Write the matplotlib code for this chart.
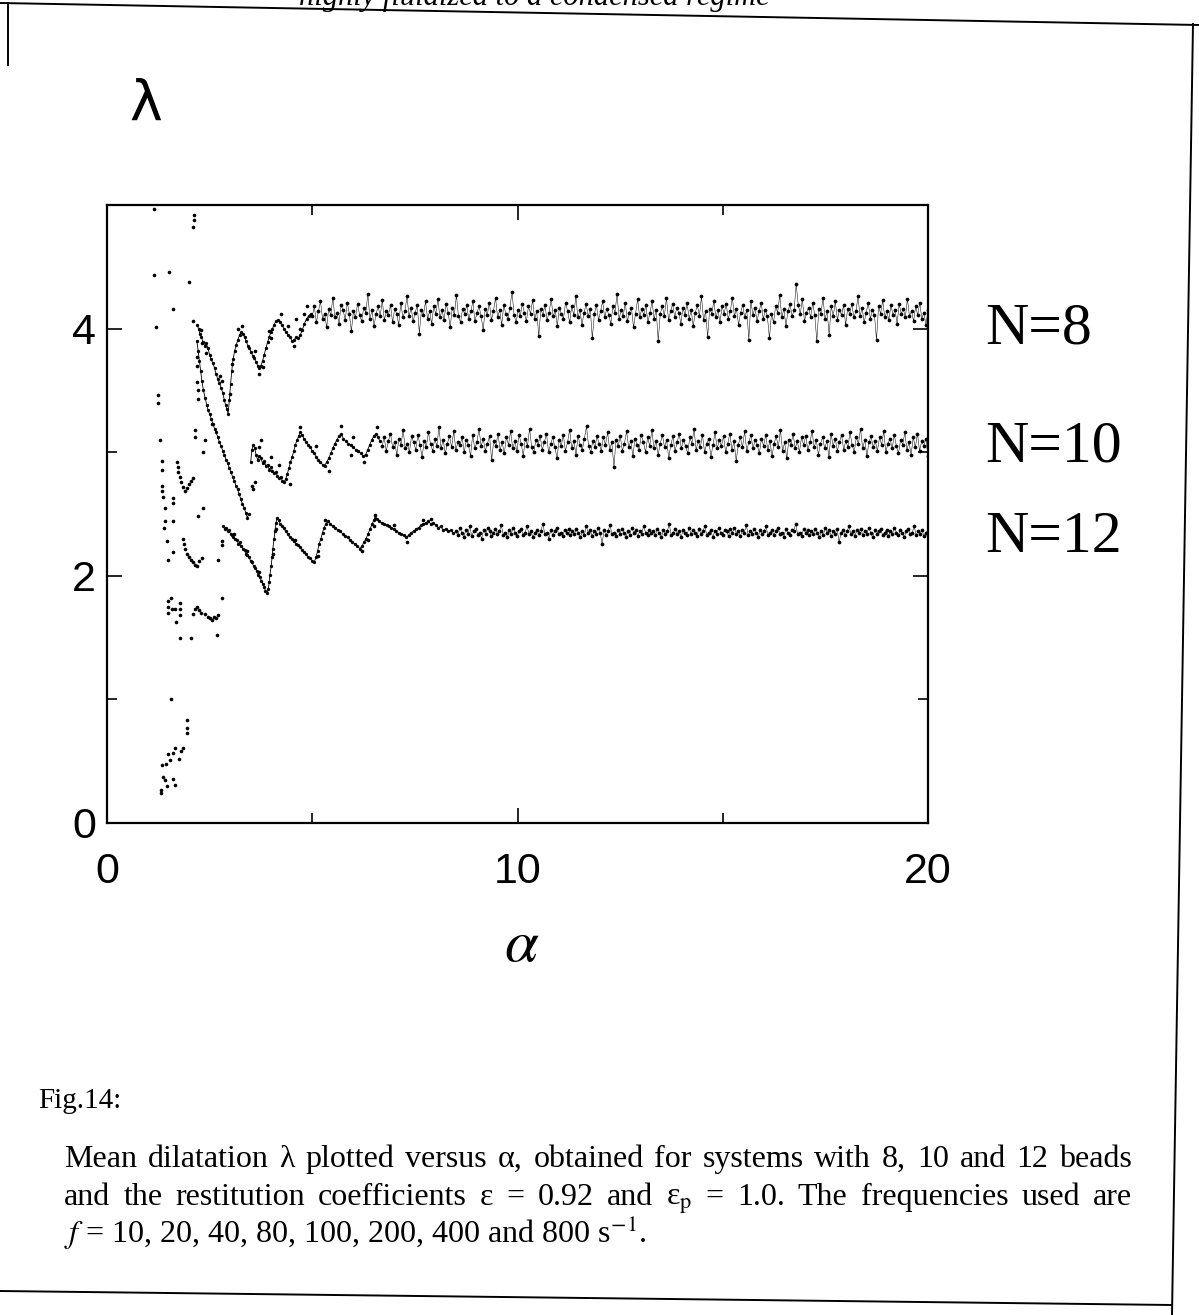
import numpy as np
import matplotlib
matplotlib.use("Agg")
import matplotlib.pyplot as plt
from matplotlib import font_manager
from matplotlib.lines import Line2D

# ---------------- data ----------------
series_labels = ["N=8", "N=10", "N=12"]
x_ticks = [0, 10, 20]
y_ticks = [0, 2, 4]

# early scattered points (unstable regime, alpha < ~2.8)
early_scatter = [
    (1.14, 4.97), (2.12, 4.92), (2.12, 4.88), (2.10, 4.82), (1.15, 4.43), (1.51, 4.46),
    (2.00, 4.38), (1.61, 4.16), (1.20, 4.01), (1.25, 3.46), (1.25, 3.40), (2.10, 4.06),
    (2.19, 3.77), (2.20, 3.70), (2.22, 3.50), (2.22, 3.43), (2.19, 3.57), (2.31, 3.88),
    (1.29, 3.10), (1.34, 2.93), (1.34, 2.86), (1.34, 2.73), (1.34, 2.69), (1.36, 2.64),
    (1.41, 2.55), (1.41, 2.44), (1.38, 2.39), (1.46, 2.28), (1.49, 2.13), (1.61, 2.19),
    (1.61, 2.63), (1.61, 2.59), (1.61, 2.44), (2.14, 3.18), (2.14, 3.12), (2.39, 3.10),
    (2.34, 3.00), (2.22, 2.48), (2.34, 2.55), (2.56, 3.23),
    (1.70, 2.92), (1.72, 2.88), (1.74, 2.84), (1.77, 2.80), (1.80, 2.76), (1.85, 2.72),
    (1.90, 2.69), (1.95, 2.71), (2.00, 2.74), (2.05, 2.77), (2.10, 2.79),
    (1.85, 2.30), (1.87, 2.26), (1.90, 2.22), (1.95, 2.18), (2.00, 2.15), (2.05, 2.13),
    (2.10, 2.11), (2.15, 2.09), (2.20, 2.08), (2.25, 2.12), (2.31, 2.14), (2.70, 2.13),
    (2.80, 2.25), (2.80, 2.28),
    (1.49, 1.80), (1.49, 1.75), (1.49, 1.70), (1.56, 1.82), (1.58, 1.73), (1.66, 1.73),
    (1.68, 1.63), (1.78, 1.78), (1.78, 1.73), (1.78, 1.68), (1.78, 1.50), (2.05, 1.50),
    (2.10, 1.69), (2.15, 1.73), (2.20, 1.75), (2.25, 1.72), (2.30, 1.70), (2.39, 1.69),
    (2.45, 1.67), (2.50, 1.66), (2.56, 1.64), (2.60, 1.67), (2.65, 1.66), (2.70, 1.68),
    (2.68, 1.52), (2.80, 1.82),
    (1.56, 1.00), (1.95, 0.83), (1.95, 0.77), (1.95, 0.73), (1.85, 0.61), (1.66, 0.61),
    (1.61, 0.57), (1.49, 0.56), (1.44, 0.48), (1.34, 0.47), (1.53, 0.51), (1.75, 0.52),
    (1.80, 0.58), (1.36, 0.37), (1.41, 0.35), (1.61, 0.36), (1.66, 0.31), (1.46, 0.30),
    (1.32, 0.27), (1.32, 0.24),
]

n8_early = [
    (2.20, 4.03), (2.23, 4.00), (2.26, 3.96), (2.30, 3.93), (2.34, 3.89), (2.38, 3.86),
    (2.42, 3.88), (2.46, 3.84), (2.50, 3.79), (2.54, 3.75), (2.58, 3.72), (2.62, 3.68),
    (2.66, 3.63), (2.70, 3.59), (2.74, 3.56), (2.78, 3.52), (2.82, 3.48), (2.86, 3.42),
    (2.89, 3.38), (2.92, 3.35), (2.95, 3.31), (2.98, 3.42), (3.01, 3.55), (3.04, 3.66),
    (3.07, 3.75), (3.11, 3.82), (3.15, 3.87), (3.19, 3.91), (3.23, 3.95), (3.27, 3.97),
    (3.31, 3.96), (3.35, 3.93), (3.39, 3.90), (3.43, 3.86), (3.47, 3.84), (3.51, 3.81),
    (3.55, 3.78), (3.59, 3.76), (3.63, 3.73), (3.67, 3.70), (3.71, 3.68), (3.75, 3.70),
    (3.79, 3.74), (3.83, 3.79), (3.87, 3.84), (3.91, 3.89), (3.95, 3.93), (3.99, 3.97),
    (4.03, 4.00), (4.07, 4.03), (4.11, 4.06), (4.16, 4.07), (4.21, 4.05), (4.26, 4.03),
    (4.31, 4.00), (4.36, 3.97), (4.41, 3.95), (4.46, 3.93), (4.51, 3.90), (4.56, 3.91),
    (4.61, 3.93), (4.66, 3.92), (4.71, 3.95), (4.76, 3.99), (4.81, 4.04), (4.86, 4.08),
    (4.91, 4.10), (4.96, 4.12),
]
n8_extra = [
    (2.28, 3.99), (2.40, 3.80), (2.75, 3.62), (2.80, 3.58), (3.00, 3.47), (3.20, 4.00),
    (3.30, 4.02), (3.60, 3.82), (3.70, 3.63), (3.95, 3.98), (4.00, 3.92), (4.25, 4.12),
    (4.40, 4.02), (4.55, 3.86), (4.70, 4.00), (4.80, 4.12), (3.05, 3.71), (3.80, 3.69),
    (4.88, 4.18), (4.60, 4.08),
]

n10_early = [
    (2.19, 3.90), (2.22, 3.82), (2.25, 3.74), (2.28, 3.66), (2.31, 3.58), (2.35, 3.50),
    (2.39, 3.44), (2.43, 3.38), (2.46, 3.34), (2.50, 3.31), (2.54, 3.27), (2.58, 3.23),
    (2.62, 3.19), (2.66, 3.16), (2.70, 3.12), (2.74, 3.08), (2.78, 3.05), (2.82, 3.01),
    (2.86, 2.98), (2.90, 2.94), (2.94, 2.91), (2.98, 2.87), (3.02, 2.84), (3.06, 2.80),
    (3.10, 2.77), (3.14, 2.73), (3.18, 2.70), (3.22, 2.66), (3.26, 2.62), (3.30, 2.58),
    (3.34, 2.55), (3.38, 2.51), (3.42, 2.47), (3.45, 2.50),
    (3.50, 2.92), (3.53, 3.02), (3.56, 3.06), (3.60, 3.03), (3.63, 2.98), (3.67, 2.94),
    (3.71, 2.97), (3.75, 2.95), (3.79, 2.91), (3.83, 2.93), (3.87, 2.89), (3.91, 2.90),
    (3.95, 2.86), (3.99, 2.88), (4.03, 2.85), (4.07, 2.83), (4.11, 2.84), (4.15, 2.81),
    (4.19, 2.79), (4.23, 2.80), (4.27, 2.77), (4.31, 2.76), (4.35, 2.78), (4.39, 2.82),
    (4.43, 2.87), (4.47, 2.92), (4.51, 2.96), (4.55, 3.01), (4.59, 3.06), (4.63, 3.10),
    (4.67, 3.13), (4.71, 3.16), (4.75, 3.14), (4.80, 3.11), (4.85, 3.08), (4.90, 3.06),
    (4.95, 3.04), (5.00, 3.01), (5.05, 2.99), (5.10, 2.96), (5.15, 2.94), (5.20, 2.92),
    (5.25, 2.90), (5.30, 2.89), (5.35, 2.92), (5.40, 2.95), (5.45, 2.99), (5.50, 3.03),
    (5.55, 3.07), (5.60, 3.10), (5.65, 3.13), (5.70, 3.15), (5.76, 3.11), (5.82, 3.09),
    (5.88, 3.07), (5.94, 3.06), (6.00, 3.04), (6.06, 3.02), (6.12, 3.01), (6.18, 2.99),
    (6.24, 2.97), (6.30, 2.98), (6.35, 3.02), (6.40, 3.06), (6.45, 3.10), (6.50, 3.13),
    (6.55, 3.15), (6.60, 3.12), (6.65, 3.09),
]
n10_extra = [
    (3.53, 2.73), (3.56, 2.70), (3.60, 2.76), (4.00, 2.96), (4.20, 2.90), (4.70, 3.20),
    (5.10, 3.05), (5.40, 2.85), (5.70, 3.21), (6.00, 3.12), (6.25, 2.92), (5.95, 2.98),
    (4.45, 2.74), (3.70, 3.04), (6.58, 3.20), (3.75, 3.10),
]

n12_early = [
    (2.83, 2.40), (2.87, 2.38), (2.90, 2.39), (2.94, 2.36), (2.97, 2.37), (3.01, 2.34),
    (3.05, 2.33), (3.08, 2.31), (3.12, 2.30), (3.16, 2.29), (3.20, 2.26), (3.23, 2.27),
    (3.27, 2.24), (3.31, 2.22), (3.35, 2.21), (3.38, 2.18), (3.42, 2.17), (3.46, 2.15),
    (3.50, 2.12), (3.53, 2.11), (3.57, 2.08), (3.61, 2.06), (3.65, 2.04), (3.68, 2.01),
    (3.72, 1.99), (3.76, 1.96), (3.80, 1.93), (3.83, 1.91), (3.86, 1.88), (3.90, 1.86),
    (3.93, 1.89), (3.95, 1.95), (3.97, 2.01), (4.00, 2.08), (4.02, 2.15), (4.04, 2.22),
    (4.07, 2.30), (4.09, 2.36), (4.12, 2.43), (4.14, 2.47), (4.18, 2.45), (4.22, 2.42),
    (4.26, 2.40), (4.30, 2.39), (4.35, 2.36), (4.40, 2.34), (4.45, 2.31), (4.50, 2.30),
    (4.55, 2.28), (4.60, 2.26), (4.65, 2.25), (4.70, 2.23), (4.75, 2.21), (4.80, 2.19),
    (4.85, 2.18), (4.90, 2.15), (4.95, 2.14), (5.00, 2.12), (5.05, 2.11), (5.09, 2.15),
    (5.13, 2.20), (5.17, 2.26), (5.21, 2.30), (5.25, 2.35), (5.29, 2.39), (5.33, 2.42),
    (5.38, 2.44), (5.44, 2.42), (5.50, 2.40), (5.56, 2.39), (5.62, 2.37), (5.68, 2.36),
    (5.74, 2.34), (5.80, 2.32), (5.86, 2.31), (5.92, 2.29), (5.98, 2.27), (6.04, 2.26),
    (6.10, 2.24), (6.16, 2.22), (6.21, 2.24), (6.26, 2.27), (6.31, 2.30), (6.36, 2.34),
    (6.41, 2.38), (6.46, 2.42), (6.50, 2.45), (6.54, 2.47), (6.58, 2.46), (6.63, 2.44),
    (6.69, 2.43), (6.75, 2.42), (6.81, 2.41), (6.87, 2.40), (6.93, 2.39), (6.99, 2.38),
    (7.05, 2.36), (7.11, 2.35), (7.17, 2.34), (7.23, 2.33), (7.29, 2.31), (7.35, 2.33),
    (7.41, 2.35), (7.47, 2.36), (7.53, 2.38), (7.59, 2.39), (7.65, 2.41), (7.71, 2.42),
    (7.77, 2.43), (7.83, 2.44), (7.89, 2.42), (7.95, 2.43), (8.01, 2.41), (8.07, 2.39),
    (8.13, 2.40), (8.19, 2.37), (8.25, 2.38), (8.31, 2.36), (8.37, 2.37), (8.43, 2.35),
]
n12_extra = [
    (3.10, 2.34), (3.40, 2.20), (3.70, 2.03), (4.05, 2.18), (4.12, 2.38), (4.58, 2.29),
    (5.15, 2.16), (5.30, 2.45), (6.20, 2.20), (6.50, 2.40), (6.52, 2.49), (7.31, 2.27),
    (7.70, 2.45), (7.00, 2.41), (7.90, 2.46), (6.35, 2.29),
]

# plateau ranges (alpha start, alpha end) and values
n8_range = (5.0, 20.0)
n8_plateau = [
    4.10, 4.18, 4.05, 4.14, 4.22, 4.08, 4.12, 4.01, 4.16, 4.11, 4.25, 4.09, 4.13, 4.04, 4.19, 4.15, 4.07, 4.21, 4.12, 3.98,
    4.14, 4.09, 4.20, 4.11, 4.06, 4.17, 4.13, 4.28, 4.08, 4.15, 4.02, 4.12, 4.18, 4.10, 4.23, 4.07, 4.14, 4.11, 4.19, 4.05,
    4.16, 4.12, 4.03, 4.21, 4.09, 4.14, 4.26, 4.10, 4.17, 4.06, 4.13, 4.19, 3.96, 4.15, 4.11, 4.22, 4.08, 4.14, 4.04, 4.18,
    4.12, 4.24, 4.09, 4.15, 4.07, 4.20, 4.13, 4.01, 4.17, 4.11, 4.27, 4.10, 4.05, 4.16, 4.12, 4.19, 4.08, 4.14, 4.22, 4.06,
    4.13, 4.18, 4.10, 3.99, 4.16, 4.11, 4.21, 4.07, 4.14, 4.25, 4.09, 4.15, 4.03, 4.19, 4.12, 4.08, 4.17, 4.30, 4.11, 4.05,
    4.15, 4.10, 4.20, 4.13, 4.06, 4.18, 4.12, 4.23, 4.08, 4.14, 3.94, 4.16, 4.11, 4.19, 4.07, 4.13, 4.24, 4.10, 4.15, 4.02,
    4.17, 4.12, 4.08, 4.21, 4.14, 4.05, 4.18, 4.11, 4.26, 4.09, 4.15, 4.03, 4.13, 4.20, 4.10, 4.16, 3.92, 4.12, 4.19, 4.07,
    4.14, 4.22, 4.09, 4.16, 4.11, 4.04, 4.18, 4.13, 4.28, 4.08, 4.15, 4.10, 4.21, 4.06, 4.13, 4.17, 4.01, 4.12, 4.24, 4.09,
    4.16, 4.11, 4.19, 4.05, 4.13, 4.22, 4.08, 4.15, 3.90, 4.12, 4.18, 4.10, 4.25, 4.07, 4.14, 4.20, 4.09, 4.17, 4.13, 4.04,
    4.17, 4.11, 4.21, 4.08, 4.15, 4.02, 4.13, 4.19, 4.10, 4.26, 4.07, 4.14, 3.93, 4.16, 4.12, 4.22, 4.09, 4.15, 4.05, 4.18,
    4.12, 4.20, 4.08, 4.14, 4.25, 4.10, 4.16, 4.03, 4.13, 4.19, 4.09, 4.15, 3.91, 4.22, 4.11, 4.17, 4.06, 4.14, 4.21, 4.08,
    4.15, 4.10, 3.92, 4.12, 4.05, 4.18, 4.13, 4.27, 4.09, 4.16, 4.02, 4.14, 4.20, 4.10, 4.15, 4.36, 4.19, 4.12, 4.24, 4.06,
    4.13, 4.17, 4.09, 4.21, 4.11, 3.90, 4.16, 4.12, 4.25, 4.08, 4.14, 3.95, 4.18, 4.10, 4.22, 4.07, 4.15, 4.11, 4.19, 4.03,
    4.16, 4.12, 4.20, 4.09, 4.14, 4.26, 4.10, 4.17, 4.05, 4.13, 4.21, 4.08, 4.15, 4.11, 3.91, 4.18, 4.12, 4.23, 4.09, 4.14,
    4.07, 4.19, 4.11, 4.15, 4.04, 4.20, 4.12, 4.16, 4.09, 4.24, 4.10, 4.14, 4.06, 4.18, 4.11, 4.21, 4.08, 4.13, 4.03, 4.15,
]

n10_range = (6.7, 20.0)
n10_plateau = [
    3.05, 3.12, 3.01, 3.09, 3.15, 3.04, 3.08, 2.98, 3.11, 3.06, 3.18, 3.03, 3.07, 3.00, 3.13, 3.08, 3.02, 3.14, 3.06, 2.96,
    3.09, 3.04, 3.16, 3.07, 3.01, 3.11, 3.05, 3.20, 3.03, 3.10, 2.99, 3.07, 3.13, 3.04, 3.17, 3.02, 3.08, 3.06, 3.12, 3.00,
    3.10, 3.06, 2.97, 3.14, 3.03, 3.08, 3.19, 3.05, 3.11, 3.01, 3.07, 3.13, 2.94, 3.09, 3.05, 3.15, 3.02, 3.08, 2.99, 3.12,
    3.06, 3.17, 3.03, 3.09, 3.01, 3.14, 3.07, 2.97, 3.11, 3.05, 3.19, 3.04, 3.00, 3.10, 3.06, 3.13, 3.02, 3.08, 3.15, 3.00,
    3.07, 3.12, 3.04, 2.95, 3.10, 3.05, 3.14, 3.01, 3.08, 3.18, 3.03, 3.09, 2.98, 3.13, 3.06, 3.02, 3.11, 3.21, 3.05, 3.00,
    3.09, 3.04, 3.13, 3.07, 3.01, 3.12, 3.06, 3.16, 3.02, 3.08, 2.88, 3.10, 3.05, 3.13, 3.01, 3.07, 3.17, 3.04, 3.09, 2.97,
    3.11, 3.06, 3.02, 3.14, 3.08, 3.00, 3.12, 3.05, 3.18, 3.03, 3.09, 2.98, 3.07, 3.14, 3.04, 3.10, 2.95, 3.06, 3.13, 3.01,
    3.08, 3.15, 3.03, 3.10, 3.05, 2.99, 3.12, 3.07, 3.19, 3.02, 3.09, 3.04, 3.14, 3.00, 3.07, 3.11, 2.96, 3.06, 3.16, 3.03,
    3.10, 3.05, 3.13, 3.00, 3.07, 3.15, 3.02, 3.09, 2.93, 3.06, 3.12, 3.04, 3.17, 3.01, 3.08, 3.14, 3.03, 3.10, 3.06, 2.99,
    3.11, 3.05, 3.14, 3.02, 3.09, 2.97, 3.07, 3.13, 3.04, 3.18, 3.01, 3.08, 2.95, 3.10, 3.06, 3.15, 3.03, 3.09, 3.00, 3.12,
    3.06, 3.13, 3.02, 3.08, 3.17, 3.04, 3.10, 2.98, 3.07, 3.12, 3.03, 3.09, 2.96, 3.15, 3.05, 3.11, 3.01, 3.08, 3.14, 3.02,
    3.09, 3.04, 3.16, 3.06, 3.00, 3.12, 3.07, 3.19, 3.03, 3.10, 2.97, 3.08, 3.13, 3.04, 3.09, 3.01, 3.12, 3.06, 3.17, 3.00,
    3.07, 3.11, 3.03, 3.14, 3.05, 2.99, 3.10, 3.06, 3.16, 3.02, 3.08, 2.98, 3.12, 3.04, 3.15, 3.01, 3.09, 3.05, 3.11, 2.97,
]

n12_range = (8.5, 20.0)
n12_plateau = [
    2.36, 2.33, 2.39, 2.35, 2.31, 2.37, 2.34, 2.40, 2.32, 2.36, 2.38, 2.33, 2.35, 2.30, 2.37, 2.34, 2.39, 2.36, 2.32, 2.35,
    2.38, 2.34, 2.36, 2.41, 2.33, 2.35, 2.31, 2.37, 2.34, 2.39, 2.35, 2.32, 2.36, 2.38, 2.33, 2.35, 2.40, 2.34, 2.36, 2.31,
    2.35, 2.37, 2.33, 2.36, 2.42, 2.34, 2.35, 2.30, 2.37, 2.33, 2.36, 2.39, 2.34, 2.35, 2.32, 2.37, 2.35, 2.38, 2.33, 2.36,
    2.34, 2.38, 2.35, 2.31, 2.36, 2.33, 2.40, 2.35, 2.37, 2.32, 2.36, 2.34, 2.39, 2.35, 2.26, 2.37, 2.33, 2.36, 2.41, 2.34,
    2.35, 2.32, 2.37, 2.34, 2.38, 2.35, 2.31, 2.36, 2.33, 2.39, 2.35, 2.37, 2.32, 2.36, 2.34, 2.40, 2.35, 2.33, 2.37, 2.35,
    2.36, 2.33, 2.38, 2.35, 2.31, 2.37, 2.34, 2.36, 2.42, 2.33, 2.35, 2.38, 2.34, 2.36, 2.31, 2.37, 2.35, 2.33, 2.39, 2.34,
    2.37, 2.35, 2.32, 2.38, 2.34, 2.36, 2.40, 2.33, 2.35, 2.37, 2.31, 2.36, 2.34, 2.39, 2.35, 2.33, 2.37, 2.36, 2.32, 2.38,
    2.35, 2.39, 2.34, 2.36, 2.32, 2.37, 2.35, 2.41, 2.33, 2.36, 2.34, 2.38, 2.35, 2.31, 2.37, 2.34, 2.36, 2.40, 2.33, 2.35,
    2.37, 2.33, 2.36, 2.39, 2.34, 2.35, 2.31, 2.38, 2.35, 2.33, 2.37, 2.36, 2.42, 2.34, 2.35, 2.32, 2.38, 2.35, 2.37, 2.33,
    2.36, 2.34, 2.38, 2.35, 2.31, 2.36, 2.33, 2.39, 2.35, 2.37, 2.32, 2.36, 2.34, 2.38, 2.27, 2.35, 2.37, 2.33, 2.36, 2.40,
    2.34, 2.36, 2.32, 2.37, 2.35, 2.38, 2.33, 2.36, 2.34, 2.39, 2.35, 2.31, 2.37, 2.34, 2.36, 2.38, 2.33, 2.35, 2.37, 2.32,
    2.36, 2.34, 2.39, 2.35, 2.33, 2.37, 2.35, 2.31, 2.36, 2.38, 2.34, 2.35, 2.40, 2.33, 2.36, 2.34, 2.37, 2.32, 2.35, 2.36,
]

# ---------------- figure ----------------
W, H = 1199, 1315
plt.rcParams['mathtext.fontset'] = 'stix'
avail = {f.name for f in font_manager.fontManager.ttflist}
sans = 'Liberation Sans' if 'Liberation Sans' in avail else 'DejaVu Sans'
serif = 'Liberation Serif' if 'Liberation Serif' in avail else 'DejaVu Serif'

fig = plt.figure(figsize=(W / 100, H / 100), dpi=100)
fig.patch.set_facecolor('white')


def fx(px):
    return px / W


def fy(py):
    return 1 - py / H


ax = fig.add_axes([fx(107), fy(823), fx(928) - fx(107), fy(205) - fy(823)])
ax.set_xlim(0, 20)
ax.set_ylim(0, 5)
ax.set_xticks(x_ticks)
ax.set_xticks([5, 15], minor=True)
ax.set_yticks(y_ticks)
ax.set_yticks([1, 3], minor=True)
ax.tick_params(which='both', direction='in', top=True, right=True, width=1.2, colors='black')
ax.tick_params(which='major', length=11)
ax.tick_params(which='minor', length=7)
ax.tick_params(axis='x', which='major', pad=21)
ax.tick_params(axis='y', which='major', pad=8)
for lab in ax.get_xticklabels() + ax.get_yticklabels():
    lab.set_family(sans)
    lab.set_fontsize(31)
for sp in ax.spines.values():
    sp.set_linewidth(1.6)

dot = dict(linestyle='none', marker='o', ms=2.6, mew=0, color='black')
trace = dict(linestyle='-', lw=0.6, marker='o', ms=2.4, mew=0, color='black')


def unzip(pairs):
    return [p[0] for p in pairs], [p[1] for p in pairs]


for pairs in (early_scatter, n8_extra, n10_extra, n12_extra):
    a, l = unzip(pairs)
    ax.plot(a, l, **dot)

# transient branches: N=10 has a jump, draw in two pieces
a, l = unzip(n8_early)
ax.plot(a, l, **trace)
a, l = unzip(n10_early)
ax.plot(a[:34], l[:34], **trace)
ax.plot(a[34:], l[34:], **trace)
a, l = unzip(n12_early)
ax.plot(a, l, **trace)

for rng, vals in ((n8_range, n8_plateau), (n10_range, n10_plateau), (n12_range, n12_plateau)):
    a = np.linspace(rng[0], rng[1], len(vals))
    ax.plot(a, vals, linestyle='-', lw=0.35, marker='o', ms=2.7, mew=0, color='black')

# axis symbols
fig.text(fx(146), fy(105), "λ", fontsize=40, ha='center', va='center', family='DejaVu Sans')
fig.text(fx(522), fy(945), r"$\alpha$", fontsize=44, ha='center', va='center')

# series labels
for lab, yy in zip(series_labels, (330, 447, 538)):
    fig.text(fx(985), fy(yy), lab, fontsize=43, ha='left', va='center', family=serif)

# cut header text (only its lower part shows on the scan)
fig.text(fx(770), fy(5), "highly fluidized to a condensed regime",
         fontsize=22, ha='right', va='baseline', family=serif, style='italic')

# caption
cap_size = 23
fig.text(fx(38), fy(1108), "Fig.14:", fontsize=21, ha='left', va='baseline', family=serif)
renderer = fig.canvas.get_renderer()


def justify(words, x0, x1, y):
    objs = [fig.text(0, 0, w, fontsize=cap_size, family=serif, ha='left', va='baseline') for w in words]
    widths = [o.get_window_extent(renderer).width for o in objs]
    gap = (x1 - x0 - sum(widths)) / (len(words) - 1)
    x = x0
    for o, w in zip(objs, widths):
        o.set_position((fx(x), fy(y)))
        x += w + gap


line1 = "Mean dilatation λ plotted versus α, obtained for systems with 8, 10 and 12 beads".split()
line2 = ["and", "the", "restitution", "coefficients", "ε", "=", "0.92", "and",
         r"ε$_{\mathrm{p}}$", "=", "1.0.", "The", "frequencies", "used", "are"]
justify(line1, 64, 1132, 1167)
justify(line2, 64, 1132, 1205)
fig.text(fx(64), fy(1243), r"$f$ = 10, 20, 40, 80, 100, 200, 400 and 800 s$^{-1}$.",
         fontsize=cap_size, ha='left', va='baseline', family=serif)

# page frame lines of the scan
frame = [((0, 3), (1199, 25)), ((8, 3), (8, 65)), ((1193, 24), (1172, 1315)), ((0, 1291), (1172, 1305))]
for (xa, ya), (xb, yb) in frame:
    fig.add_artist(Line2D([fx(xa), fx(xb)], [fy(ya), fy(yb)], transform=fig.transFigure,
                          color='black', lw=1.4))

fig.savefig("out.png", dpi=100, facecolor='white')
